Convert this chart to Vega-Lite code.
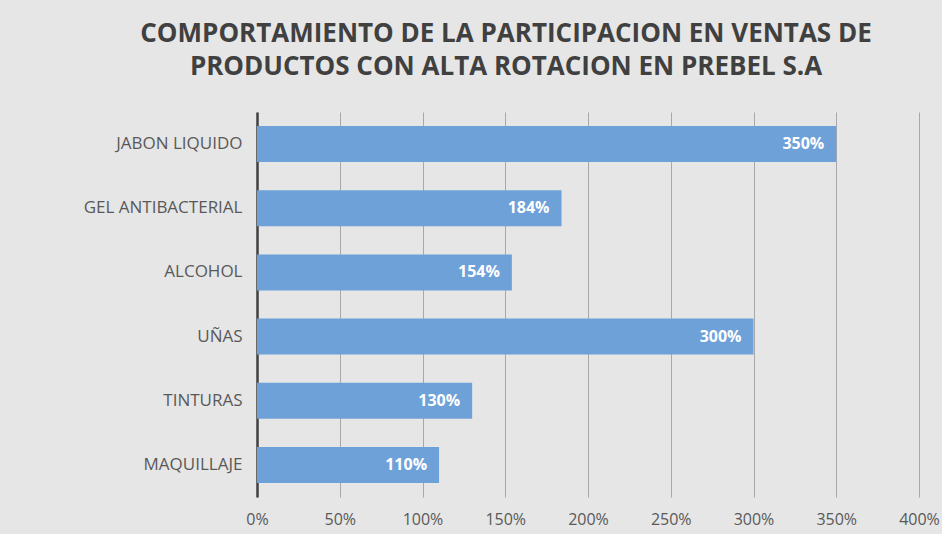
{
  "$schema": "https://vega.github.io/schema/vega-lite/v6.json",
  "width": 662,
  "height": 385,
  "autosize": {"type": "none"},
  "padding": {"left": 257, "top": 112, "right": 23, "bottom": 37},
  "background": "#e6e6e6",
  "title": {
    "text": ["COMPORTAMIENTO DE LA PARTICIPACION EN VENTAS DE", "PRODUCTOS CON ALTA ROTACION EN PREBEL S.A"],
    "font": "Open Sans",
    "fontSize": 26,
    "fontWeight": "bold",
    "color": "#404040",
    "anchor": "middle",
    "dx": -82,
    "offset": 32,
    "lineHeight": 33
  },
  "config": {
    "view": {"stroke": null},
    "font": "Open Sans"
  },
  "data": {
    "values": [
      {"producto": "JABON LIQUIDO", "valor": 3.5},
      {"producto": "GEL ANTIBACTERIAL", "valor": 1.84},
      {"producto": "ALCOHOL", "valor": 1.54},
      {"producto": "UÑAS", "valor": 3.0},
      {"producto": "TINTURAS", "valor": 1.3},
      {"producto": "MAQUILLAJE", "valor": 1.1}
    ]
  },
  "encoding": {
    "y": {
      "field": "producto",
      "type": "nominal",
      "sort": null,
      "title": null,
      "scale": {"paddingInner": 0.44, "paddingOuter": 0.22},
      "axis": {
        "domain": true,
        "domainColor": "#404040",
        "domainWidth": 2.5,
        "ticks": false,
        "labelFont": "Open Sans",
        "labelFontSize": 17,
        "labelColor": "#595959",
        "labelPadding": 15
      }
    },
    "x": {
      "field": "valor",
      "type": "quantitative",
      "title": null,
      "scale": {"domain": [0, 4]},
      "axis": {
        "format": ".0%",
        "values": [0, 0.5, 1, 1.5, 2, 2.5, 3, 3.5, 4],
        "labelOverlap": false,
        "labelFlush": false,
        "labelBound": false,
        "domain": false,
        "ticks": false,
        "grid": true,
        "gridColor": "#a8a8a8",
        "gridWidth": 1,
        "labelFont": "Open Sans",
        "labelFontSize": 16,
        "labelColor": "#595959",
        "labelPadding": 14
      }
    }
  },
  "layer": [
    {"mark": {"type": "bar", "color": "#6fa1d9"}},
    {
      "mark": {"type": "text", "align": "right", "dx": -12, "color": "#ffffff", "fontWeight": "bold", "fontSize": 16, "font": "Open Sans"},
      "encoding": {"text": {"field": "valor", "type": "quantitative", "format": ".0%"}}
    }
  ]
}
